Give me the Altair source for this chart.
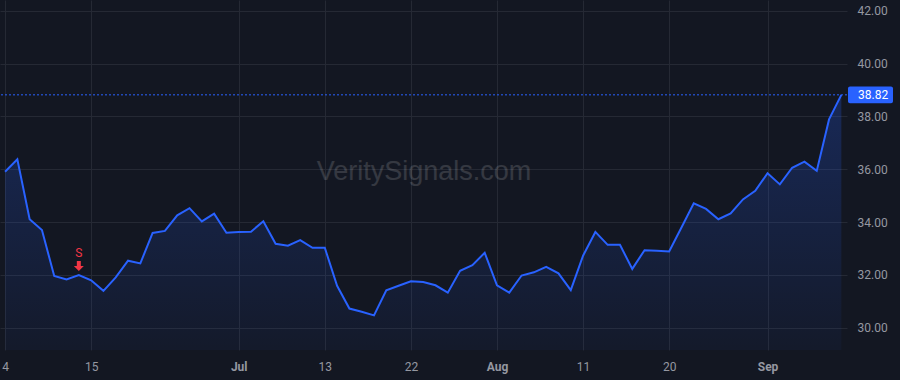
import altair as alt
import pandas as pd

# ---- data ----
values = [35.91, 36.38, 34.11, 33.70, 31.96, 31.83, 32.00, 31.80, 31.40, 31.91,
          32.54, 32.44, 33.59, 33.67, 34.26, 34.53, 34.03, 34.32, 33.60, 33.63,
          33.64, 34.03, 33.18, 33.11, 33.32, 33.03, 33.03, 31.59, 30.73, 30.61,
          30.47, 31.42, 31.59, 31.76, 31.73, 31.61, 31.33, 32.16, 32.37, 32.84,
          31.61, 31.33, 31.98, 32.10, 32.31, 32.06, 31.43, 32.73, 33.63, 33.14,
          33.14, 32.23, 32.94, 32.92, 32.89, 33.80, 34.71, 34.50, 34.11, 34.33,
          34.86, 35.19, 35.85, 35.43, 36.06, 36.29, 35.94, 37.89, 38.82]
tick_index = [0, 7, 19, 26, 33, 40, 47, 54, 62]
tick_labels = ["4", "15", "Jul", "13", "22", "Aug", "11", "20", "Sep"]
month_ticks = [19, 40, 62]
price_ticks = [30, 32, 34, 36, 38, 40, 42]
last_price = 38.82
signal_index = 6
signal_label = "S"
watermark = "VeritySignals.com"

df = pd.DataFrame({"idx": list(range(len(values))), "price": values})
df_last = pd.DataFrame({"price": [last_price], "lo": [last_price - 0.32], "hi": [last_price + 0.32],
                        "label": [f"{last_price:.2f}"]})
df_sig = pd.DataFrame({"idx": [signal_index], "price": [values[signal_index]], "label": [signal_label]})

BG = "#131722"
BLUE = "#2962ff"
GRID = "#252934"
TXT = "#9598a1"
FONT = "Roboto"

y_lo, y_hi = 29.16, 42.41
xs = alt.Scale(domain=[-0.41, 68.46], nice=False, zero=False)
ys = alt.Scale(domain=[y_lo, y_hi], nice=False, zero=False)

label_expr = " : ".join(f"datum.value == {i} ? '{t}'" for i, t in zip(tick_index, tick_labels)) + " : ''"
bold_test = " || ".join(f"datum.value == {i}" for i in month_ticks)

x_axis = alt.Axis(values=tick_index, labelExpr=label_expr, title=None, grid=True,
                  gridColor=GRID, gridWidth=1, ticks=False, tickSize=0, domain=False,
                  labelColor=TXT, labelFont=FONT, labelFontSize=12, labelPadding=11,
                  labelFontWeight={"condition": {"test": bold_test, "value": "bold"}, "value": "normal"},
                  labelFlush=False, labelOverlap=False)
y_axis = alt.Axis(values=price_ticks, format=".2f", title=None, orient="right", grid=True,
                  gridColor=GRID, gridWidth=1, ticks=False, tickSize=0, domain=False,
                  labelColor=TXT, labelFont=FONT, labelFontSize=12, labelPadding=10,
                  labelAlign="left", labelBaseline="middle")

base = alt.Chart(df)

area = base.mark_area(
    color=alt.Gradient(gradient="linear",
                       stops=[alt.GradientStop(color="rgba(41,98,255,0.24)", offset=0),
                              alt.GradientStop(color="rgba(41,98,255,0.04)", offset=1)],
                       x1=0, x2=0, y1=0, y2=1)
).encode(
    x=alt.X("idx:Q", scale=xs, axis=x_axis),
    y=alt.Y("price:Q", scale=ys, axis=y_axis),
    y2=alt.Y2(datum=y_lo),
)

mark_wm = alt.Chart(pd.DataFrame({"t": [watermark]})).mark_text(
    font="Liberation Sans", fontSize=27, color="#ffffff", opacity=0.14,
    align="center", baseline="middle"
).encode(x=alt.value(424), y=alt.value(172), text="t:N")

line = base.mark_line(color=BLUE, strokeWidth=2, strokeJoin="miter").encode(
    x=alt.X("idx:Q", scale=xs), y=alt.Y("price:Q", scale=ys, title=None))

rule = alt.Chart(df_last).mark_rule(color=BLUE, strokeWidth=1, strokeDash=[2, 2]).encode(
    y=alt.Y("price:Q", scale=ys, title=None))

box = alt.Chart(df_last).mark_rect(color=BLUE, cornerRadius=2).encode(
    x=alt.value(848), x2=alt.value(893),
    y=alt.Y("hi:Q", scale=ys, title=None), y2="lo:Q")

box_txt = alt.Chart(df_last).mark_text(color="#ffffff", font=FONT, fontSize=12,
                                      align="left", baseline="middle").encode(
    x=alt.value(858), y=alt.Y("price:Q", scale=ys, title=None), text="label:N")

arrow = alt.Chart(df_sig).mark_point(
    shape="M-0.4,-1L0.4,-1L0.4,0L1,0L0,1L-1,0L-0.4,0Z", filled=True, size=100,
    color="#f23645", opacity=1, yOffset=-9
).encode(x=alt.X("idx:Q", scale=xs), y=alt.Y("price:Q", scale=ys, title=None))

sig_txt = alt.Chart(df_sig).mark_text(color="#f23645", font=FONT, fontSize=12,
                                     align="center", baseline="middle", dy=-22).encode(
    x=alt.X("idx:Q", scale=xs), y=alt.Y("price:Q", scale=ys, title=None), text="label:N")

chart = alt.layer(area, mark_wm, line, rule, box, box_txt, arrow, sig_txt).properties(
    width=847, height=350, background=BG,
    padding={"left": 0, "top": 0, "right": 53, "bottom": 30},
    autosize=alt.AutoSizeParams(type="none"),
).configure_view(stroke=None)

chart.save("out.html", embed_options={"renderer": "svg", "actions": False})
